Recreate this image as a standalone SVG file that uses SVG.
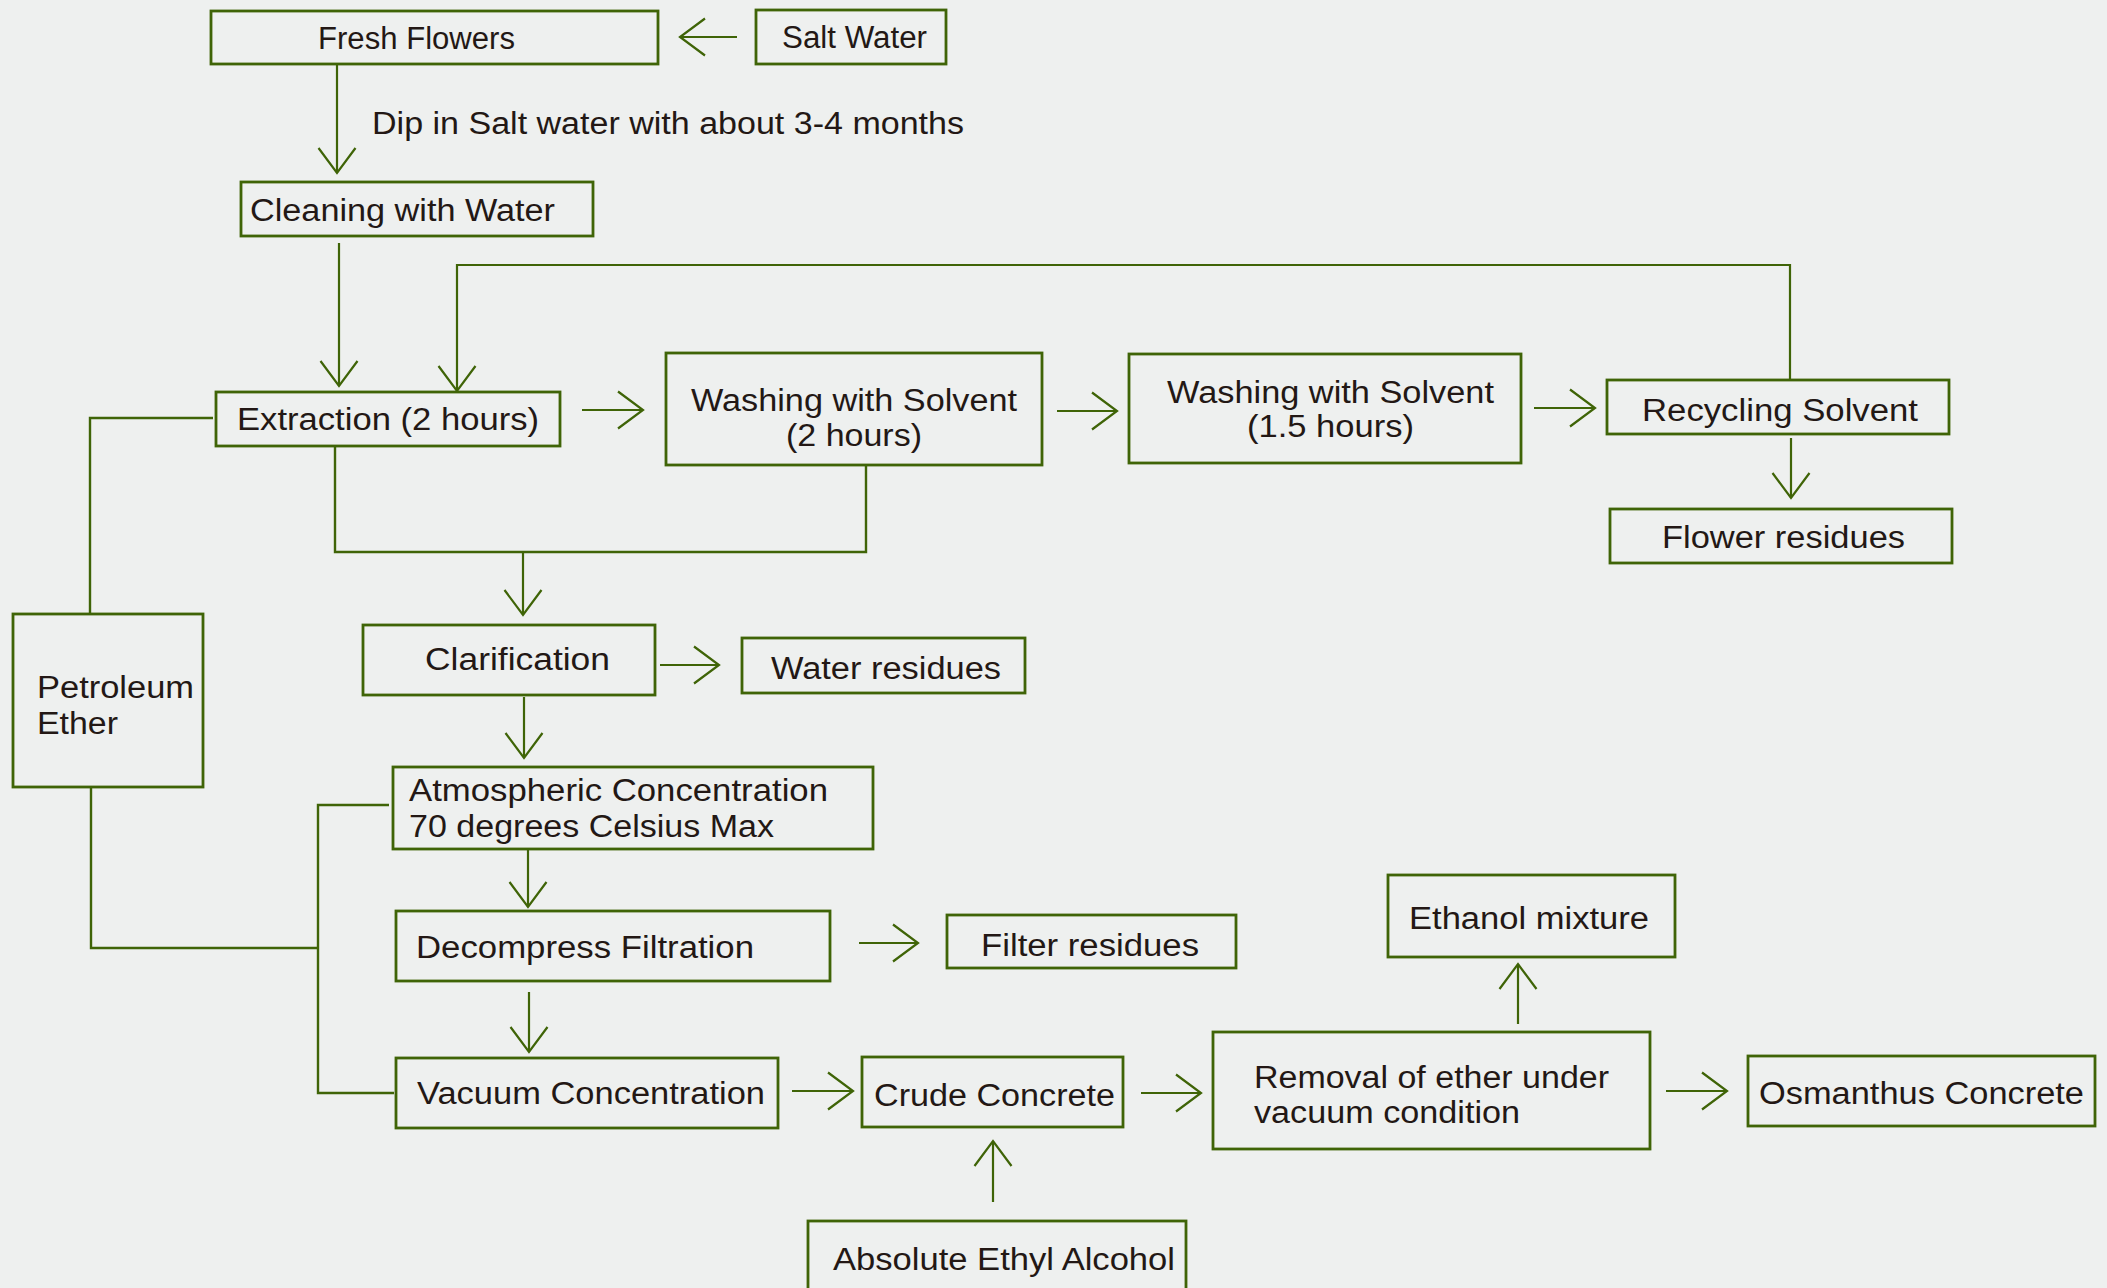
<svg xmlns="http://www.w3.org/2000/svg" width="2107" height="1288" viewBox="0 0 2107 1288">
<style>
.bg{fill:#eef0ef}
.box{fill:none;stroke:#3f6407;stroke-width:2.8}
.c{fill:none;stroke:#3f6407;stroke-width:2.2;marker-end:url(#a)}
.l{fill:none;stroke:#3f6407;stroke-width:2.4}
text{font-family:"Liberation Sans",Arial,sans-serif;font-size:31px;fill:#231815}
</style>
<defs>
<marker id="a" viewBox="-28 -21 31 42" refX="0" refY="0" markerWidth="31" markerHeight="42" markerUnits="userSpaceOnUse" orient="auto">
<path d="M-25,-18.5 L0,0 L-25,18.5" fill="none" stroke="#3f6407" stroke-width="2.2"/>
</marker>
</defs>
<rect class="bg" x="0" y="0" width="2107" height="1288"/>
<g id="connectors">
<path class="c" d="M737,37 L680,37"/>
<path class="c" d="M337,64 L337,173"/>
<path class="c" d="M339,243 L339,386"/>
<path class="c" d="M1790,380 L1790,265 L457,265 L457,391"/>
<path class="c" d="M582,410 L643,410"/>
<path class="c" d="M1057,411 L1117,411"/>
<path class="c" d="M1534,408 L1595,408"/>
<path class="c" d="M1791,438 L1791,498"/>
<path class="l" d="M335,446 L335,552 L866,552 L866,465"/>
<path class="c" d="M523,552 L523,615"/>
<path class="c" d="M660,665 L719,665"/>
<path class="c" d="M524,697 L524,758"/>
<path class="c" d="M528,849 L528,907"/>
<path class="c" d="M859,943 L918,943"/>
<path class="c" d="M529,992 L529,1052"/>
<path class="c" d="M792,1091 L853,1091"/>
<path class="c" d="M993,1202 L993,1141"/>
<path class="c" d="M1141,1093 L1201,1093"/>
<path class="c" d="M1518,1024 L1518,964"/>
<path class="c" d="M1666,1091 L1727,1091"/>
<path class="l" d="M213,418 L90,418 L90,614"/>
<path class="l" d="M91,787 L91,948 L318,948"/>
<path class="l" d="M389,805 L318,805 L318,1093 L394,1093"/>
<text x="372" y="134" textLength="592" lengthAdjust="spacingAndGlyphs">Dip in Salt water with about 3-4 months</text>
</g>
<g id="fresh-flowers"><rect class="box" x="211" y="11" width="447" height="53"/><text x="318" y="49" textLength="197" lengthAdjust="spacingAndGlyphs">Fresh Flowers</text></g>
<g id="salt-water"><rect class="box" x="756" y="10" width="190" height="54"/><text x="782" y="48" textLength="145" lengthAdjust="spacingAndGlyphs">Salt Water</text></g>
<g id="cleaning"><rect class="box" x="241" y="182" width="352" height="54"/><text x="250" y="221" textLength="305" lengthAdjust="spacingAndGlyphs">Cleaning with Water</text></g>
<g id="extraction"><rect class="box" x="216" y="392" width="344" height="54"/><text x="237" y="430" textLength="302" lengthAdjust="spacingAndGlyphs">Extraction (2 hours)</text></g>
<g id="washing-1"><rect class="box" x="666" y="353" width="376" height="112"/><text x="691" y="411" textLength="326" lengthAdjust="spacingAndGlyphs">Washing with Solvent</text><text x="786" y="446" textLength="136" lengthAdjust="spacingAndGlyphs">(2 hours)</text></g>
<g id="washing-2"><rect class="box" x="1129" y="354" width="392" height="109"/><text x="1167" y="403" textLength="327" lengthAdjust="spacingAndGlyphs">Washing with Solvent</text><text x="1247" y="437" textLength="167" lengthAdjust="spacingAndGlyphs">(1.5 hours)</text></g>
<g id="recycling"><rect class="box" x="1607" y="380" width="342" height="54"/><text x="1642" y="421" textLength="276" lengthAdjust="spacingAndGlyphs">Recycling Solvent</text></g>
<g id="flower-residues"><rect class="box" x="1610" y="509" width="342" height="54"/><text x="1662" y="548" textLength="243" lengthAdjust="spacingAndGlyphs">Flower residues</text></g>
<g id="petroleum-ether"><rect class="box" x="13" y="614" width="190" height="173"/><text x="37" y="698" textLength="157" lengthAdjust="spacingAndGlyphs">Petroleum</text><text x="37" y="734" textLength="81" lengthAdjust="spacingAndGlyphs">Ether</text></g>
<g id="clarification"><rect class="box" x="363" y="625" width="292" height="70"/><text x="425" y="670" textLength="185" lengthAdjust="spacingAndGlyphs">Clarification</text></g>
<g id="water-residues"><rect class="box" x="742" y="638" width="283" height="55"/><text x="771" y="679" textLength="230" lengthAdjust="spacingAndGlyphs">Water residues</text></g>
<g id="atmospheric"><rect class="box" x="393" y="767" width="480" height="82"/><text x="409" y="801" textLength="419" lengthAdjust="spacingAndGlyphs">Atmospheric Concentration</text><text x="409" y="837" textLength="365" lengthAdjust="spacingAndGlyphs">70 degrees Celsius Max</text></g>
<g id="decompress"><rect class="box" x="396" y="911" width="434" height="70"/><text x="416" y="958" textLength="338" lengthAdjust="spacingAndGlyphs">Decompress Filtration</text></g>
<g id="filter-residues"><rect class="box" x="947" y="915" width="289" height="53"/><text x="981" y="956" textLength="218" lengthAdjust="spacingAndGlyphs">Filter residues</text></g>
<g id="vacuum"><rect class="box" x="396" y="1058" width="382" height="70"/><text x="417" y="1104" textLength="348" lengthAdjust="spacingAndGlyphs">Vacuum Concentration</text></g>
<g id="crude"><rect class="box" x="862" y="1057" width="261" height="70"/><text x="874" y="1106" textLength="241" lengthAdjust="spacingAndGlyphs">Crude Concrete</text></g>
<g id="absolute"><rect class="box" x="808" y="1221" width="378" height="90"/><text x="833" y="1270" textLength="342" lengthAdjust="spacingAndGlyphs">Absolute Ethyl Alcohol</text></g>
<g id="removal"><rect class="box" x="1213" y="1032" width="437" height="117"/><text x="1254" y="1088" textLength="355" lengthAdjust="spacingAndGlyphs">Removal of ether under</text><text x="1254" y="1123" textLength="266" lengthAdjust="spacingAndGlyphs">vacuum condition</text></g>
<g id="ethanol"><rect class="box" x="1388" y="875" width="287" height="82"/><text x="1409" y="929" textLength="240" lengthAdjust="spacingAndGlyphs">Ethanol mixture</text></g>
<g id="osmanthus"><rect class="box" x="1748" y="1056" width="347" height="70"/><text x="1759" y="1104" textLength="325" lengthAdjust="spacingAndGlyphs">Osmanthus Concrete</text></g>
</svg>
